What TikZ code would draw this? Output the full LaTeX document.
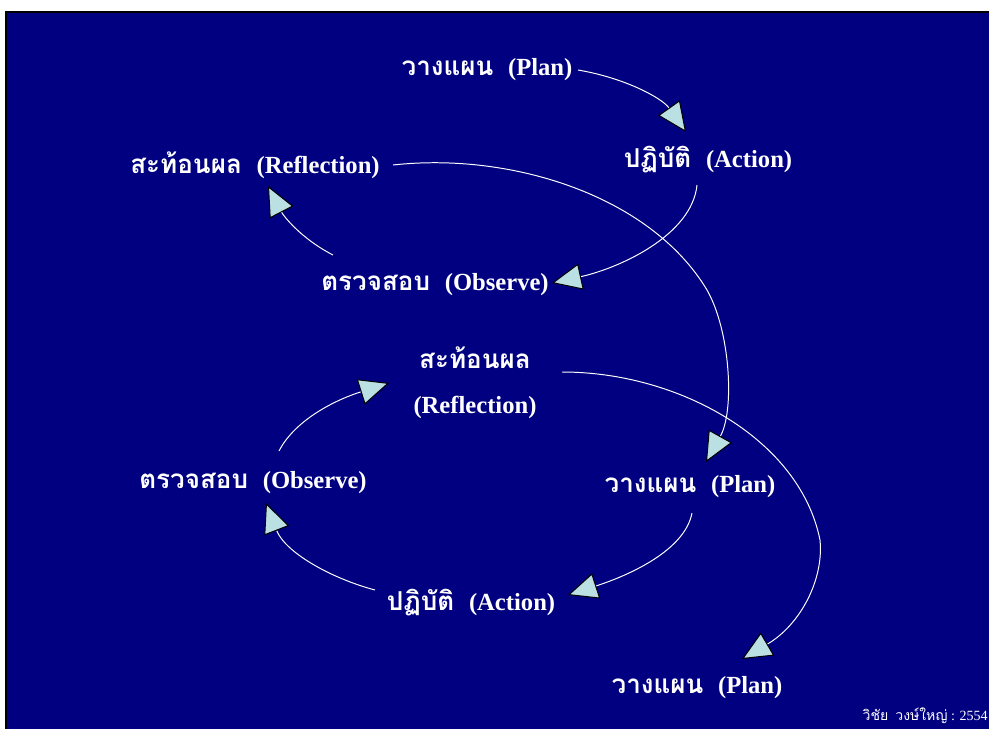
\documentclass[tikz,border=0pt]{standalone}
\usepackage{fontspec}
\setmainfont{Liberation Serif}
\newfontfamily\thai[Script=Thai]{Loma}
\newcommand\thaitxt[1]{{\thai\fontsize{18.5}{20}\selectfont #1}}
\usetikzlibrary{arrows.meta,calc}
\definecolor{navybg}{RGB}{0,0,128}
\definecolor{tipfill}{RGB}{187,224,227}
\tikzset{
  lbl/.style={text=white, inner sep=0pt, font=\bfseries\fontsize{17.5}{20}\selectfont},
  foot/.style={text=white, inner sep=0pt, font=\fontsize{10}{12}\selectfont},
  conn/.style={draw=white, line width=0.7pt,
    -{Triangle[length=0.74cm,width=0.66cm,fill=tipfill,color=black,line width=0.7pt]}},
}
\begin{document}
\begin{tikzpicture}[x=0.025cm,y=-0.025cm]
\useasboundingbox (0,0) rectangle (989,729);
\fill[white] (0,0) rectangle (989,729);
\fill[navybg] (6,12) rectangle (989,729);
\draw[black,line width=1.4pt] (6,729) -- (6,12) -- (989,12);

% labels
\node[lbl] (plan1) at (487,70) {\thaitxt{วางแผน}\hspace{0.6em}(Plan)};
\node[lbl] (act1) at (708,160) {\thaitxt{ปฏิบัติ}\hspace{0.6em}(Action)};
\node[lbl] (ref1) at (255,165) {\thaitxt{สะท้อนผล}\hspace{0.6em}(Reflection)};
\node[lbl] (obs1) at (435,285) {\thaitxt{ตรวจสอบ}\hspace{0.6em}(Observe)};
\node[lbl, align=center] (ref2) at (475,383) {\thaitxt{สะท้อนผล}\\[12pt](Reflection)};
\node[lbl] (obs2) at (253,483) {\thaitxt{ตรวจสอบ}\hspace{0.6em}(Observe)};
\node[lbl] (plan2) at (690,487) {\thaitxt{วางแผน}\hspace{0.6em}(Plan)};
\node[lbl] (act2) at (471,603) {\thaitxt{ปฏิบัติ}\hspace{0.6em}(Action)};
\node[lbl] (plan3) at (697,688) {\thaitxt{วางแผน}\hspace{0.6em}(Plan)};
\node[foot, anchor=east] (credit) at (988,716) {{\thai วิชัย\hspace{0.5em}วงษ์ใหญ่} : 2554};

% arrow tips
\coordinate (t1) at (686,132);
\coordinate (t2) at (552,283);
\coordinate (t3) at (268,186);
\coordinate (t4) at (706,462);
\coordinate (t5) at (568,595);
\coordinate (t6) at (266,503);
\coordinate (t7) at (389,383);
\coordinate (t8) at (742,659);

% connectors
\draw[conn] ($(plan1.center)+(91,0)$) .. controls (625,78) and (662,98) .. (t1);
\draw[conn] ($(act1.center)+(-11,25)$) .. controls (692,235) and (620,268) .. (t2);
\draw[conn] ($(obs1.center)+(-102,-30)$) .. controls (300,238) and (283,215) .. (t3);
\draw[conn] ($(ref1.center)+(138,0)$) .. controls (510,152) and (650,195) .. (707,290)
   .. controls (730,330) and (735,410) .. (t4);
\draw[conn] ($(plan2.center)+(2,26)$) .. controls (685,550) and (630,575) .. (t5);
\draw[conn] ($(act2.center)+(-96,-13)$) .. controls (330,578) and (285,552) .. (t6);
\draw[conn] ($(obs2.center)+(26,-32)$) .. controls (295,420) and (335,400) .. (t7);
\draw[conn] ($(ref2.center)+(87,-11)$) .. controls (680,372) and (800,440) .. (820,540)
   .. controls (824,580) and (800,625) .. (t8);
\end{tikzpicture}
\end{document}
